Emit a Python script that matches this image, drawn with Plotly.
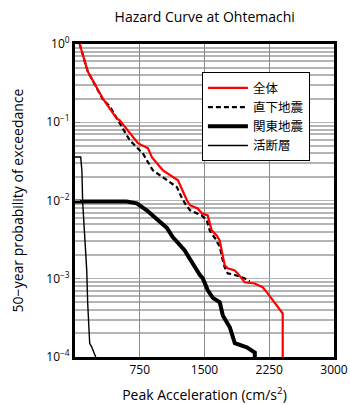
import plotly.graph_objects as go

# Peak acceleration (cm/s^2) vs 50-year probability of exceedance
total_x = [54, 147, 321, 482, 518, 634, 729, 845, 892, 1019, 1193, 1239, 1297, 1332,
           1421, 1468, 1537, 1583, 1641, 1676, 1699, 1734, 1769, 1850, 1885, 1966,
           2081, 2174, 2232, 2278, 2406, 2406]
total_y = [1.0, 0.448, 0.202, 0.112, 0.106, 0.0722, 0.0539, 0.0465, 0.0356, 0.0243,
           0.0181, 0.0139, 0.0100, 0.0087, 0.0079, 0.00686, 0.00646, 0.00415, 0.00358,
           0.0031, 0.00231, 0.00149, 0.00136, 0.00128, 0.00117, 0.00090, 0.00087,
           0.00078, 0.00065, 0.00056, 0.00036, 0.0001]

inland_x = [54, 147, 321, 402, 518, 634, 785, 901, 1019, 1181, 1239, 1274, 1332, 1421,
            1468, 1526, 1537, 1560, 1583, 1641, 1653, 1676, 1711, 1734, 1769, 1827,
            1908, 1966, 2024]
inland_y = [1.0, 0.448, 0.197, 0.16, 0.097, 0.0588, 0.0401, 0.0243, 0.0198, 0.0148,
            0.0107, 0.0092, 0.0075, 0.00686, 0.00646, 0.0056, 0.0050, 0.00415, 0.00377,
            0.0031, 0.00284, 0.0026, 0.00172, 0.0014, 0.00117, 0.00114, 0.00107,
            0.00101, 0.00093]

kanto_x = [0, 599, 715, 831, 946, 1062, 1132, 1213, 1271, 1329, 1387, 1445, 1480, 1538,
           1596, 1677, 1712, 1793, 1851, 1990, 2083, 2083]
kanto_y = [0.0097, 0.0097, 0.0092, 0.0075, 0.0058, 0.0045, 0.0034, 0.0027, 0.0023,
           0.0018, 0.0014, 0.00112, 0.00101, 0.00071, 0.00057, 0.00050, 0.00034,
           0.00024, 0.00015, 0.000133, 0.000114, 0.0001]

fault_x = [0, 66, 72, 80, 89, 112, 136, 147, 170, 193, 228, 240]
fault_y = [0.036, 0.036, 0.030, 0.024, 0.0095, 0.0034, 0.00128, 0.00049, 0.00015,
           0.000135, 0.000106, 0.0001]

x_ticks = [750, 1500, 2250, 3000]
y_ticks = [1e-4, 1e-3, 1e-2, 1e-1, 1]
y_ticktext = ["10<sup>−4</sup>", "10<sup>−3</sup>", "10<sup>−2</sup>",
              "10<sup>−1</sup>", "10<sup>0</sup>"]
y_minor = [m * 10.0 ** e for e in range(-4, 0) for m in range(2, 10)]

FONT = "Open Sans, Noto Sans CJK JP, sans-serif"

fig = go.Figure()
fig.add_trace(go.Scatter(x=fault_x, y=fault_y, mode="lines", name="活断層",
                         line=dict(color="black", width=1.4), legendrank=4))
fig.add_trace(go.Scatter(x=kanto_x, y=kanto_y, mode="lines", name="関東地震",
                         line=dict(color="black", width=4), legendrank=3))
fig.add_trace(go.Scatter(x=inland_x, y=inland_y, mode="lines", name="直下地震",
                         line=dict(color="black", width=2.2, dash="5px,3px"),
                         legendrank=2))
fig.add_trace(go.Scatter(x=total_x, y=total_y, mode="lines", name="全体",
                         line=dict(color="#ff0000", width=2.2), legendrank=1))

fig.update_layout(
    width=350, height=405,
    margin=dict(l=75, r=16, t=44, b=48, autoexpand=False),
    paper_bgcolor="white", plot_bgcolor="white",
    font=dict(family=FONT, size=12, color="black"),
    title=dict(text="Hazard Curve at Ohtemachi", x=0.585, xanchor="center",
               y=0.957, yanchor="middle", font=dict(size=14)),
    legend=dict(x=0.49, y=0.91, xanchor="left", yanchor="top",
                bgcolor="white", bordercolor="black", borderwidth=1,
                font=dict(size=12.5, family="Noto Sans CJK JP"),
                tracegroupgap=0, itemwidth=40,
                entrywidth=128, entrywidthmode="pixels"),
    showlegend=True,
)
fig.update_xaxes(
    range=[0, 3000], tickvals=x_ticks, ticks="", showgrid=True, automargin=False,
    gridcolor="#8a8a8a", gridwidth=1, zeroline=False,
    showline=True, linecolor="black", linewidth=3, mirror=True,
    title=dict(text="Peak Acceleration (cm/s<sup>2</sup>)", font=dict(size=14),
               standoff=13),
    tickfont=dict(size=12),
)
fig.update_yaxes(
    type="log", range=[-4, 0], tickvals=y_ticks, ticktext=y_ticktext,
    ticks="inside", ticklen=5, tickcolor="#888", automargin=False,
    showgrid=True, gridcolor="#b4b4b4", gridwidth=1.3, zeroline=False,
    minor=dict(tickvals=y_minor, showgrid=True, gridcolor="#b4b4b4", gridwidth=1.5,
               ticks=""),
    showline=True, linecolor="black", linewidth=3, mirror=True,
    title=dict(text="50−year probability of exceedance", font=dict(size=14),
               standoff=20),
    tickfont=dict(size=12),
)

fig.write_html("out.html")
